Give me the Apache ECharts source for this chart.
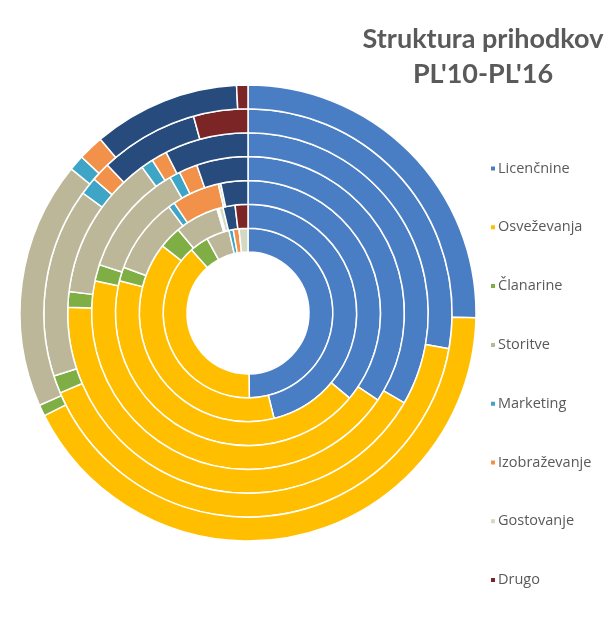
<!DOCTYPE html>
<html>
<head>
<meta charset="utf-8">
<script src="https://cdn.jsdelivr.net/npm/echarts@6/dist/echarts.min.js"></script>
<style>
  html, body { margin: 0; padding: 0; background: #fff; }
  #chart { width: 612px; height: 621px; }
</style>
</head>
<body>
<div id="chart"></div>
<script>
// categories, in ring order (clockwise from 12 o'clock)
var categories = ['Licenčnine', 'Osveževanja', 'Članarine', 'Storitve', 'Marketing',
                  'Izobraževanje', 'Gostovanje', 'Ostalo', 'Drugo'];
var colors = ['#4a7ec4', '#ffbf00', '#7fae45', '#bdb799', '#3fa5c6',
              '#f2914a', '#d3d9c3', '#264b7c', '#7c2527'];
// only these appear in the legend
var legendNames = ['Licenčnine', 'Osveževanja', 'Članarine', 'Storitve', 'Marketing',
                   'Izobraževanje', 'Gostovanje', 'Drugo'];

// share in % per year, innermost ring first
var years = ["PL'10", "PL'11", "PL'12", "PL'13", "PL'14", "PL'15", "PL'16"];
var pl10 = [49.7, 38.6, 3.6, 4.4, 0.8, 1.1, 1.7, 0, 0];
var pl11 = [46.1, 39.4, 3.3, 6.5, 0.15, 0.15, 0.6, 1.8, 1.9];
var pl12 = [36.1, 42.8, 1.7, 9.2, 0.8, 5.8, 0.3, 3.3, 0];
var pl13 = [34.4, 43.9, 1.7, 11.7, 1.1, 1.9, 0, 5.3, 0];
var pl14 = [33.3, 42.2, 1.4, 13.1, 1.1, 1.4, 0, 7.5, 0];
var pl15 = [27.8, 40.8, 1.4, 15.0, 1.4, 1.5, 0, 7.8, 4.3];
var pl16 = [25.3, 42.2, 0.8, 17.5, 1.1, 1.8, 0, 10.4, 0.8];
var rings = [pl10, pl11, pl12, pl13, pl14, pl15, pl16];

var chart = echarts.init(document.getElementById('chart'));

var innerR = 61, outerR = 228;
var step = (outerR - innerR) / rings.length;

var series = rings.map(function (vals, i) {
    var data = [];
    vals.forEach(function (v, j) {
        if (v > 0) data.push({ name: categories[j], value: v, itemStyle: { color: colors[j] } });
    });
    return {
        name: years[i],
        type: 'pie',
        center: [248, 313],
        radius: [innerR + i * step, innerR + (i + 1) * step],
        startAngle: 90,
        clockwise: true,
        avoidLabelOverlap: false,
        label: { show: false },
        labelLine: { show: false },
        emphasis: { scale: false },
        itemStyle: { borderColor: '#ffffff', borderWidth: 1.5 },
        data: data
    };
});

var option = {
    backgroundColor: '#ffffff',
    animation: false,
    color: colors,
    title: {
        text: "Struktura prihodkov\nPL'10-PL'16",
        left: 478,
        top: 17,
        textAlign: 'center',
        textStyle: {
            fontFamily: 'Lato',
            fontWeight: 'bold',
            fontSize: 27,
            lineHeight: 35,
            color: '#5a5a5a'
        }
    },
    tooltip: { trigger: 'item', formatter: '{a}<br/>{b}: {c}%' },
    legend: {
        orient: 'vertical',
        left: 484,
        top: 156,
        icon: 'rect',
        itemWidth: 6,
        itemHeight: 6,
        itemGap: 43.8,
        textStyle: { fontFamily: 'Open Sans', fontSize: 14.5, lineHeight: 15, color: '#595959', padding: [0, 0, 0, -3] },
        data: legendNames.map(function (n) {
            return { name: n, itemStyle: { color: colors[categories.indexOf(n)] } };
        })
    },
    series: series
};
chart.setOption(option);
</script>
</body>
</html>
